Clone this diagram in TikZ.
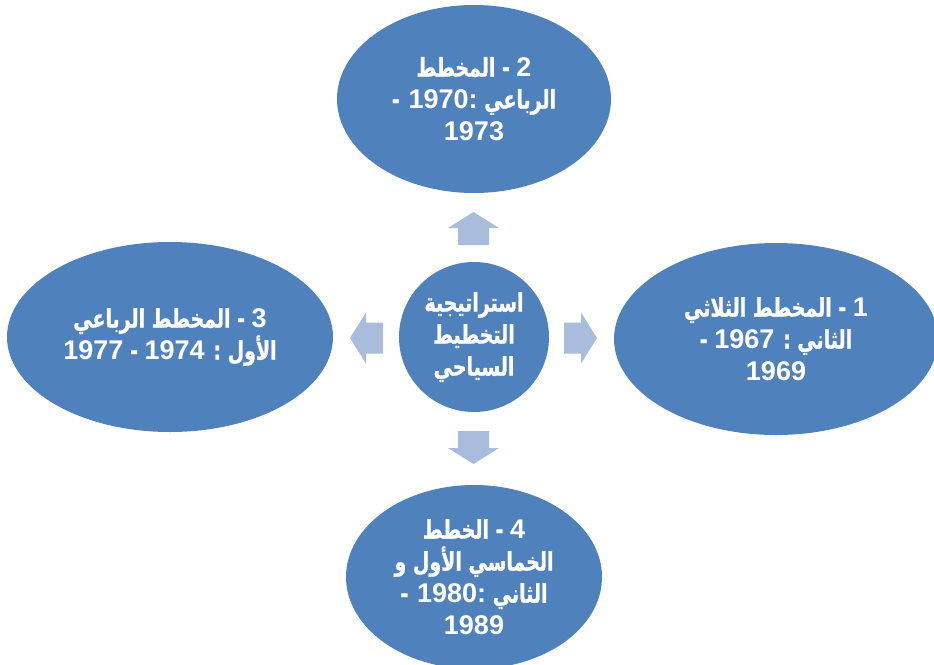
\documentclass[tikz,border=0pt]{standalone}
\usepackage{fontspec}
\usetikzlibrary{shapes.geometric}
\setmainfont{Liberation Sans}
\newfontfamily\arabicfont[Script=Arabic,Scale=0.95,FakeStretch=0.74,FakeBold=1]{DejaVu Sans}
\TeXXeTstate=1
\newcommand\yr[1]{\beginL{\normalfont\bfseries #1}\endL{}}
\definecolor{planblue}{RGB}{79,129,189}
\definecolor{arrowblue}{RGB}{170,188,219}

\begin{document}
\begin{tikzpicture}[x=1pt, y=-1pt,
  plan/.style={ellipse, fill=planblue, text=white, inner xsep=-40pt, inner ysep=-20pt,
    align=center, font=\arabicfont\bfseries\fontsize{27}{32}\selectfont},
  blockarrow/.pic={\fill[arrowblue] (-17,-15.5) -- (0,-15.5) -- (0,-25.5) -- (16,0)
    -- (0,25.5) -- (0,15.5) -- (-17,15.5) -- cycle;}]
  \useasboundingbox (0,0) rectangle (934,664);
  % the four plans
  \node[plan, minimum width=274, minimum height=188] (plan2) at (474,99)
    {\beginR\yr{2} - المخطط\endR\\ \beginR الرباعي \yr{1970:} -\endR\\ \yr{1973}};
  \node[plan, minimum width=324, minimum height=192] (plan1) at (776,339)
    {\beginR\yr{1} - المخطط الثلاثي\endR\\ \beginR الثاني : \yr{1967} -\endR\\ \yr{1969}};
  \node[plan, minimum width=326, minimum height=190] (plan3) at (170,337)
    {\beginR\yr{3} - المخطط الرباعي\endR\\ \beginR الأول : \yr{1974} - \yr{1977}\endR};
  \node[plan, minimum width=256, minimum height=184] (plan4) at (474,577)
    {\beginR\yr{4} - الخطط\endR\\ \beginR الخماسي الأول و\endR\\
     \beginR الثاني \yr{1980:} -\endR\\ \yr{1989}};
  % centre
  \node[plan, circle, inner sep=-20pt, minimum size=150] (hub) at (474,337)
    {\beginR استراتيجية\endR\\ \beginR التخطيط\endR\\ \beginR السياحي\endR};
  % block arrows
  \pic[rotate=90] at (473.5,228) {blockarrow};
  \pic[rotate=-90] at (473.5,448) {blockarrow};
  \pic at (581,338) {blockarrow};
  \pic[rotate=180] at (366,338) {blockarrow};
\end{tikzpicture}
\end{document}
